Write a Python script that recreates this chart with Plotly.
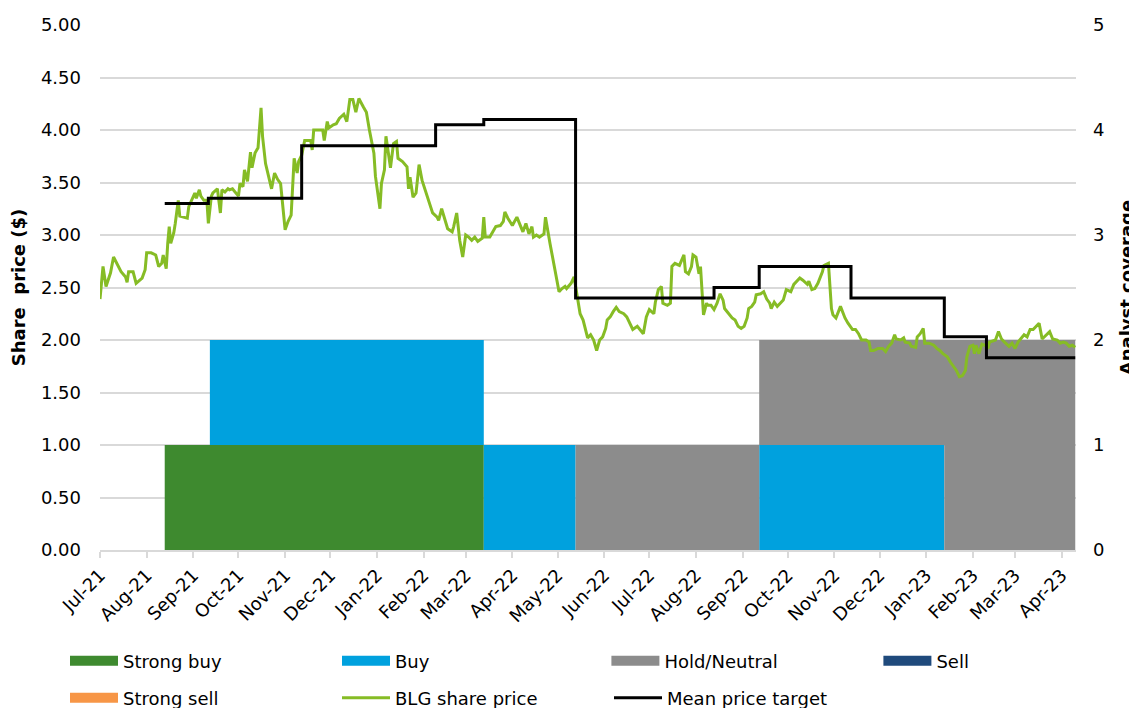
import plotly.graph_objects as go

# ---------------- data ----------------
tick_dates = ['2021-07-01', '2021-08-01', '2021-09-01', '2021-10-01', '2021-11-01', '2021-12-01',
              '2022-01-01', '2022-02-01', '2022-03-01', '2022-04-01', '2022-05-01', '2022-06-01',
              '2022-07-01', '2022-08-01', '2022-09-01', '2022-10-01', '2022-11-01', '2022-12-01',
              '2023-01-01', '2023-02-01', '2023-03-01', '2023-04-01']
tick_labels = ['Jul-21', 'Aug-21', 'Sep-21', 'Oct-21', 'Nov-21', 'Dec-21',
               'Jan-22', 'Feb-22', 'Mar-22', 'Apr-22', 'May-22', 'Jun-22',
               'Jul-22', 'Aug-22', 'Sep-22', 'Oct-22', 'Nov-22', 'Dec-22',
               'Jan-23', 'Feb-23', 'Mar-23', 'Apr-23']

# analyst ratings (number of analysts, changes at these dates)
rating_dates = ['2021-07-01', '2021-08-13', '2021-09-12', '2022-03-13', '2022-05-13',
                '2022-09-12', '2023-01-13', '2023-04-10']
strong_buy = [0, 1, 1, 0, 0, 0, 0, 0]
buy = [0, 0, 1, 1, 0, 1, 0, 0]
hold_neutral = [0, 0, 0, 0, 1, 1, 2, 2]
sell = [0, 0, 0, 0, 0, 0, 0, 0]
strong_sell = [0, 0, 0, 0, 0, 0, 0, 0]

# mean price target ($)
target_dates = ['2021-08-13', '2021-09-11', '2021-11-12', '2022-02-09', '2022-03-13', '2022-05-13',
                '2022-08-13', '2022-09-12', '2022-11-12', '2023-01-13', '2023-02-10', '2023-04-10']
mean_target = [3.30, 3.35, 3.85, 4.05, 4.10, 2.40, 2.50, 2.70, 2.40, 2.03, 1.83, 1.83]

# BLG share price ($)
price_dates = [
    '2021-07-01', '2021-07-03', '2021-07-05', '2021-07-08', '2021-07-10', '2021-07-13', '2021-07-15',
    '2021-07-18', '2021-07-19', '2021-07-20', '2021-07-23', '2021-07-25', '2021-07-29', '2021-07-31',
    '2021-08-01', '2021-08-04', '2021-08-07', '2021-08-09', '2021-08-11', '2021-08-12', '2021-08-14',
    '2021-08-15', '2021-08-16', '2021-08-17', '2021-08-19', '2021-08-20', '2021-08-22', '2021-08-23',
    '2021-08-26', '2021-08-28', '2021-08-29', '2021-08-31', '2021-09-02', '2021-09-03', '2021-09-05',
    '2021-09-06', '2021-09-08', '2021-09-10', '2021-09-11', '2021-09-13', '2021-09-14', '2021-09-17',
    '2021-09-19', '2021-09-20', '2021-09-22', '2021-09-24', '2021-09-25', '2021-09-27', '2021-09-29',
    '2021-10-01', '2021-10-02', '2021-10-04', '2021-10-05', '2021-10-07', '2021-10-09', '2021-10-10',
    '2021-10-12', '2021-10-14', '2021-10-16', '2021-10-17', '2021-10-19', '2021-10-21', '2021-10-23',
    '2021-10-25', '2021-10-27', '2021-10-29', '2021-10-31', '2021-11-01', '2021-11-03', '2021-11-05',
    '2021-11-07', '2021-11-09', '2021-11-10', '2021-11-12', '2021-11-14', '2021-11-18', '2021-11-19',
    '2021-11-20', '2021-11-24', '2021-11-26', '2021-11-27', '2021-11-29', '2021-11-30', '2021-12-03',
    '2021-12-05', '2021-12-07', '2021-12-10',
    '2021-12-12', '2021-12-14', '2021-12-16', '2021-12-18', '2021-12-20', '2021-12-23', '2021-12-25',
    '2021-12-27', '2021-12-30', '2021-12-31', '2022-01-03', '2022-01-04', '2022-01-06', '2022-01-07',
    '2022-01-10', '2022-01-12', '2022-01-14', '2022-01-15', '2022-01-18', '2022-01-21', '2022-01-22',
    '2022-01-23', '2022-01-25', '2022-01-27', '2022-01-29', '2022-01-31', '2022-02-02', '2022-02-04',
    '2022-02-06', '2022-02-07', '2022-02-10', '2022-02-11', '2022-02-13', '2022-02-15', '2022-02-17',
    '2022-02-20', '2022-02-21', '2022-02-23', '2022-02-25', '2022-02-27', '2022-03-01', '2022-03-03',
    '2022-03-05', '2022-03-07', '2022-03-09', '2022-03-12', '2022-03-13', '2022-03-14', '2022-03-17',
    '2022-03-21', '2022-03-24', '2022-03-26', '2022-03-27', '2022-03-29', '2022-04-01', '2022-04-04',
    '2022-04-06', '2022-04-08', '2022-04-10', '2022-04-12', '2022-04-14', '2022-04-15', '2022-04-17',
    '2022-04-19', '2022-04-22', '2022-04-23', '2022-04-26', '2022-04-28', '2022-04-30', '2022-05-02',
    '2022-05-04', '2022-05-06', '2022-05-07', '2022-05-10', '2022-05-12', '2022-05-14', '2022-05-16',
    '2022-05-18',
    '2022-05-19', '2022-05-21', '2022-05-23', '2022-05-25', '2022-05-27', '2022-05-29', '2022-05-31',
    '2022-06-02', '2022-06-03', '2022-06-05', '2022-06-07', '2022-06-09', '2022-06-11', '2022-06-14',
    '2022-06-16', '2022-06-18', '2022-06-20', '2022-06-23', '2022-06-25', '2022-06-27', '2022-06-29',
    '2022-07-01', '2022-07-04', '2022-07-05', '2022-07-07', '2022-07-09', '2022-07-10', '2022-07-13',
    '2022-07-15', '2022-07-16', '2022-07-18', '2022-07-21', '2022-07-24', '2022-07-25', '2022-07-27',
    '2022-07-29', '2022-07-30', '2022-08-01', '2022-08-03', '2022-08-04', '2022-08-06', '2022-08-08',
    '2022-08-09', '2022-08-11', '2022-08-13', '2022-08-15', '2022-08-17', '2022-08-19', '2022-08-20',
    '2022-08-23', '2022-08-25', '2022-08-27', '2022-08-29', '2022-08-31', '2022-09-02', '2022-09-04',
    '2022-09-05', '2022-09-07', '2022-09-09', '2022-09-10', '2022-09-13', '2022-09-15', '2022-09-17',
    '2022-09-19', '2022-09-20', '2022-09-22', '2022-09-24', '2022-09-26', '2022-09-28', '2022-09-30',
    '2022-10-03', '2022-10-05', '2022-10-07', '2022-10-09', '2022-10-11', '2022-10-14', '2022-10-15',
    '2022-10-17', '2022-10-19', '2022-10-21', '2022-10-24', '2022-10-25', '2022-10-28', '2022-10-30',
    '2022-10-31', '2022-11-02', '2022-11-05', '2022-11-08', '2022-11-10', '2022-11-13', '2022-11-15',
    '2022-11-17', '2022-11-19', '2022-11-22', '2022-11-24', '2022-11-25', '2022-11-27', '2022-11-30',
    '2022-12-03', '2022-12-05', '2022-12-07', '2022-12-09', '2022-12-11', '2022-12-12', '2022-12-15',
    '2022-12-17', '2022-12-18', '2022-12-21', '2022-12-22', '2022-12-25', '2022-12-26', '2022-12-28',
    '2022-12-30', '2022-12-31', '2023-01-03', '2023-01-06', '2023-01-08', '2023-01-10', '2023-01-12',
    '2023-01-15', '2023-01-17', '2023-01-19', '2023-01-21', '2023-01-23', '2023-01-25', '2023-01-27',
    '2023-01-28', '2023-01-30', '2023-02-01', '2023-02-02', '2023-02-03', '2023-02-05', '2023-02-07',
    '2023-02-09', '2023-02-11', '2023-02-12', '2023-02-15', '2023-02-16', '2023-02-18', '2023-02-20',
    '2023-02-22', '2023-02-25', '2023-02-27', '2023-03-01', '2023-03-03', '2023-03-04', '2023-03-07',
    '2023-03-09', '2023-03-11', '2023-03-13', '2023-03-15', '2023-03-17', '2023-03-19', '2023-03-22',
    '2023-03-24', '2023-03-26', '2023-03-29', '2023-03-31', '2023-04-02', '2023-04-04', '2023-04-06',
    '2023-04-08', '2023-04-10']
share_price = [
    2.39, 2.70, 2.51, 2.64, 2.79, 2.70, 2.65,
    2.60, 2.55, 2.65, 2.65, 2.54, 2.59, 2.67,
    2.83, 2.83, 2.81, 2.70, 2.73, 2.81, 2.68,
    2.92, 3.08, 2.92, 3.02, 3.11, 3.33, 3.18,
    3.17, 3.16, 3.27, 3.33, 3.40, 3.35, 3.43,
    3.37, 3.33, 3.33, 3.11, 3.37, 3.40, 3.44,
    3.21, 3.43, 3.41, 3.44, 3.43, 3.44, 3.41,
    3.37, 3.49, 3.46, 3.62, 3.51, 3.79, 3.64,
    3.78, 3.83, 4.21, 3.94, 3.68, 3.57, 3.44,
    3.59, 3.53, 3.49, 3.19, 3.05, 3.13, 3.19,
    3.73, 3.59, 3.70, 3.76, 3.90, 3.90, 3.81,
    4.00, 4.00, 4.00, 3.90, 4.08, 4.02, 4.05,
    4.06, 4.11, 4.15,
    4.08, 4.29, 4.29, 4.17, 4.30, 4.22, 4.17,
    4.00, 3.78, 3.56, 3.25, 3.49, 3.62, 3.94,
    3.64, 3.87, 3.89, 3.73, 3.70, 3.65, 3.44,
    3.55, 3.36, 3.40, 3.67, 3.52, 3.43, 3.33,
    3.25, 3.21, 3.17, 3.14, 3.25, 3.16, 3.06,
    3.03, 3.08, 3.21, 2.95, 2.79, 3.00, 2.98,
    2.95, 2.98, 2.94, 2.97, 3.17, 2.98, 2.98,
    3.08, 3.09, 3.13, 3.22, 3.16, 3.09, 3.17,
    3.09, 3.03, 3.11, 3.01, 3.08, 2.98, 3.00,
    2.98, 3.01, 3.17, 2.92, 2.76, 2.63, 2.46,
    2.49, 2.51, 2.49, 2.54, 2.60, 2.41, 2.25,
    2.19,
    2.14, 2.02, 2.05, 2.00, 1.90, 2.00, 2.03,
    2.11, 2.19, 2.22, 2.27, 2.31, 2.27, 2.25,
    2.22, 2.16, 2.10, 2.13, 2.10, 2.06, 2.22,
    2.29, 2.25, 2.36, 2.48, 2.51, 2.35, 2.33,
    2.35, 2.70, 2.73, 2.71, 2.81, 2.65, 2.63,
    2.70, 2.81, 2.79, 2.63, 2.70, 2.24, 2.35,
    2.33, 2.33, 2.29, 2.35, 2.44, 2.38, 2.30,
    2.24, 2.21, 2.19, 2.13, 2.11, 2.13, 2.21,
    2.30, 2.32, 2.36, 2.43, 2.44, 2.46, 2.39,
    2.35, 2.30, 2.36, 2.32, 2.35, 2.38, 2.48,
    2.46, 2.53, 2.56, 2.59, 2.57, 2.53, 2.56,
    2.48, 2.49, 2.54, 2.65, 2.71, 2.73, 2.30,
    2.24, 2.21, 2.32, 2.21, 2.16, 2.10, 2.10,
    2.06, 2.00, 2.00, 1.98, 1.90, 1.90, 1.92,
    1.92, 1.89, 1.94, 1.97, 2.05, 2.01, 2.00,
    2.02, 1.98, 1.97, 1.94, 1.93, 2.03, 2.06,
    2.11, 1.97, 1.97, 1.95, 1.92, 1.90, 1.87,
    1.84, 1.79, 1.75, 1.71, 1.65, 1.66, 1.71,
    1.84, 1.94, 1.95, 1.87, 1.95, 1.87, 1.96,
    1.95, 1.92, 1.98, 2.00, 2.00, 2.08, 2.01,
    1.98, 1.94, 1.97, 1.92, 1.98, 2.00, 2.05,
    2.03, 2.10, 2.10, 2.13, 2.16, 2.01, 2.05,
    2.08, 2.01, 2.00, 1.97, 1.98, 1.97, 1.94,
    1.95, 1.93]

rating_series = [
    ('Strong buy', strong_buy, '#3E8A2F'),
    ('Buy', buy, '#00A1DE'),
    ('Hold/Neutral', hold_neutral, '#8C8C8C'),
    ('Sell', sell, '#1F4A7C'),
    ('Strong sell', strong_sell, '#F79646'),
]
legend_slot = ['legend', 'legend', 'legend3', 'legend3', 'legend2']

FONT = 'DejaVu Sans'
GRID = '#D9D9D9'
# the page adds an 8px body margin, so the figure is sized to fit the 1137x708 window
W, H = 1129, 700

fig = go.Figure()

# stacked rating areas (right axis, base subplot so the lines are drawn above)
for name, vals, col in rating_series:
    fig.add_trace(go.Scatter(
        x=rating_dates, y=vals, name=name, mode='lines', stackgroup='ratings',
        line=dict(width=0, shape='hv', color=col), fillcolor=col,
        yaxis='y', showlegend=False, legendgroup=name, hoverinfo='skip'))

# legend swatches for the rating areas
for (name, vals, col), slot in zip(rating_series, legend_slot):
    fig.add_trace(go.Scatter(
        x=[None], y=[None], name=name, mode='lines',
        line=dict(width=10, color=col), legendgroup=name,
        legend=slot, yaxis='y'))

fig.add_trace(go.Scatter(
    x=price_dates, y=share_price, name='BLG share price', mode='lines',
    line=dict(color='#86BC25', width=3), yaxis='y2', legend='legend2'))
fig.add_trace(go.Scatter(
    x=target_dates, y=mean_target, name='Mean price target', mode='lines',
    line=dict(color='#000000', width=3, shape='hv'), yaxis='y2', legend='legend2'))

legend_common = dict(
    orientation='h', xref='container', yref='container', xanchor='left', yanchor='middle',
    entrywidth=209, entrywidthmode='pixels', itemwidth=48,
    font=dict(family=FONT, size=18, color='#000000'), bgcolor='rgba(0,0,0,0)',
    traceorder='normal')

fig.update_layout(
    width=W, height=H,
    margin=dict(l=92, r=61, t=17, b=158, autoexpand=False),
    paper_bgcolor='white', plot_bgcolor='white',
    font=dict(family=FONT, size=18, color='#000000'),
    showlegend=True,
    xaxis=dict(type='date', range=['2021-07-01', '2023-04-10 12:00'], automargin=False,
               tickvals=tick_dates, ticktext=tick_labels, tickangle=-45,
               ticks='outside', ticklen=6, tickwidth=1.5, tickcolor=GRID,
               showline=True, linecolor=GRID, linewidth=1.5,
               showgrid=False, zeroline=False,
               tickfont=dict(family=FONT, size=18, color='#000000')),
    yaxis=dict(side='right', range=[0, 5], automargin=False,
               tickvals=[0, 1, 2, 3, 4, 5], ticktext=['0', '1', '2', '3', '4', '5'],
               showgrid=False, zeroline=False, ticks='', ticklabelstandoff=16,
               title=dict(text='<b>Analyst coverage</b>', standoff=17,
                          font=dict(family=FONT, size=18, color='#000000'))),
    yaxis2=dict(side='left', overlaying='y', range=[0, 5], automargin=False,
                tickvals=[0, 0.5, 1, 1.5, 2, 2.5, 3, 3.5, 4, 4.5, 5], tickformat='.2f',
                showgrid=True, gridcolor=GRID, gridwidth=1.5, zeroline=False, ticks='',
                ticklabelstandoff=18,
                title=dict(text='<b>Share\u00a0 price ($)</b>', standoff=10,
                           font=dict(family=FONT, size=18, color='#000000'))),
    legend=dict(x=57 / W, y=1 - 653 / H, **legend_common),
    legend3=dict(x=(57 + 541.4) / W, y=1 - 653 / H, **legend_common),
    legend2=dict(x=57 / W, y=1 - 690 / H, **legend_common),
)

fig.write_html('out.html')
